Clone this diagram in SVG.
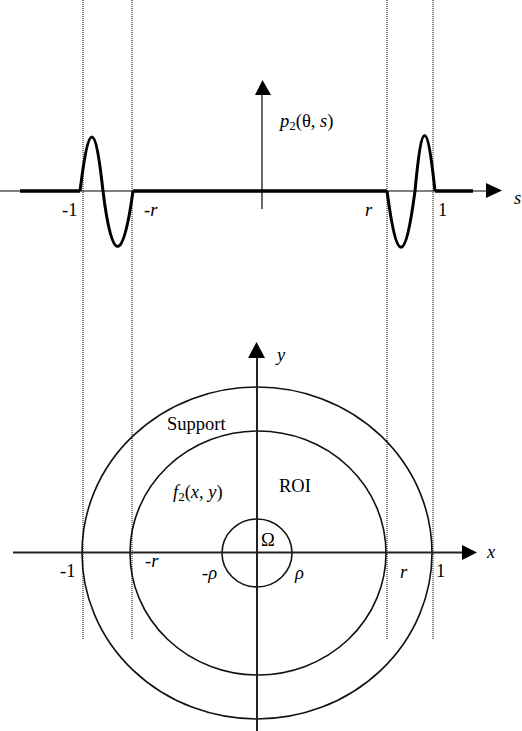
<svg xmlns="http://www.w3.org/2000/svg" width="522" height="731" viewBox="0 0 522 731">
<style>
text{font-family:"Liberation Serif","Times New Roman",serif;font-size:18.5px;fill:#000}
.i{font-style:italic}
.dot{stroke:#000;stroke-width:1;stroke-dasharray:1 1;fill:none}
.ax{stroke:#222;stroke-width:2;fill:none}
.thin{stroke:#000;stroke-width:1.2;fill:none}
.thick{stroke:#000;stroke-width:3.5;fill:none}
.wave{stroke:#000;stroke-width:3;fill:none;stroke-linejoin:round}
.ell{stroke:#111;stroke-width:1.6;fill:none}
.ah{fill:#000}
</style>
<g id="guides">
<line class="dot" x1="83" y1="0" x2="83" y2="640"/>
<line class="dot" x1="132" y1="0" x2="132" y2="640"/>
<line class="dot" x1="387" y1="0" x2="387" y2="640"/>
<line class="dot" x1="433" y1="0" x2="433" y2="640"/>
</g>
<g id="top-plot">
<line class="thin" x1="0" y1="191" x2="488" y2="191"/>
<polygon class="ah" points="486,183 502,190.5 486,198"/>
<line class="thin" x1="262" y1="95" x2="262" y2="209"/>
<polygon class="ah" points="255,95 262.5,80 271,95"/>
<line class="thick" x1="20" y1="191" x2="80" y2="191"/>
<line class="thick" x1="133" y1="191" x2="387" y2="191"/>
<line class="thick" x1="435" y1="191" x2="473" y2="191"/>
<path class="wave" d="M80,191 C89,119 95,119 103,191 C112,265 123,265 133,191"/>
<path class="wave" d="M387,191 C397,266 405,266 415,191 C422,117 427,117 435,191"/>
<text x="62" y="216">-1</text>
<text class="i" x="144" y="216">-r</text>
<text class="i" x="365" y="216">r</text>
<text x="438" y="216">1</text>
<text class="i" x="514" y="204">s</text>
<text x="280" y="127"><tspan class="i">p</tspan><tspan font-size="13" dy="3">2</tspan><tspan dy="-3">(θ, </tspan><tspan class="i">s</tspan>)</text>
</g>
<g id="bottom-plot">
<ellipse class="ell" cx="257" cy="553" rx="175" ry="166"/>
<ellipse class="ell" cx="258" cy="553" rx="128" ry="122"/>
<ellipse class="ell" cx="257" cy="553" rx="35" ry="34"/>
<line class="ax" x1="13" y1="552.5" x2="463" y2="552.5"/>
<polygon class="ah" points="462,545 477,552.5 462,560"/>
<line class="ax" x1="257" y1="356" x2="257" y2="731"/>
<polygon class="ah" points="248,358 256.5,342 265,358"/>
<text class="i" x="277" y="361">y</text>
<text class="i" x="487" y="558">x</text>
<text x="167" y="430">Support</text>
<text x="173" y="498"><tspan class="i">f</tspan><tspan font-size="13" dy="3">2</tspan><tspan dy="-3">(</tspan><tspan class="i">x</tspan>, <tspan class="i">y</tspan>)</text>
<text x="279" y="492">ROI</text>
<text x="261" y="546">Ω</text>
<text x="60" y="577">-1</text>
<text class="i" x="145" y="567">-r</text>
<text class="i" x="202" y="579">-ρ</text>
<text class="i" x="295" y="579">ρ</text>
<text class="i" x="400" y="578">r</text>
<text x="436" y="577">1</text>
</g>
</svg>
